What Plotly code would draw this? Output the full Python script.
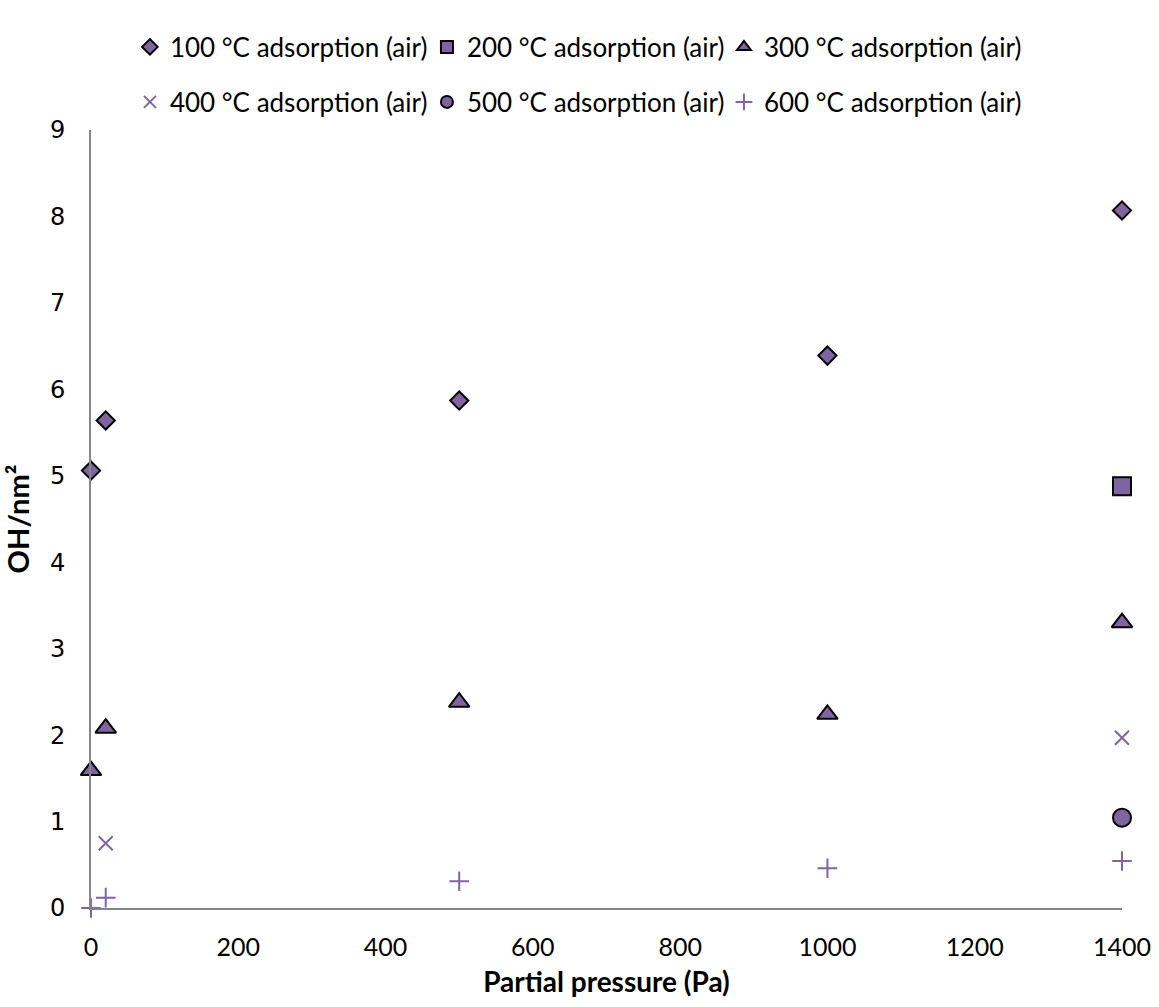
import plotly.graph_objects as go

# Partial pressure (Pa) and surface hydroxyl density (OH/nm²) per treatment temperature
p_100 = [0, 20, 500, 1000, 1400]
oh_100 = [5.06, 5.64, 5.87, 6.39, 8.07]

p_200 = [1400]
oh_200 = [4.88]

p_300 = [0, 20, 500, 1000, 1400]
oh_300 = [1.59, 2.08, 2.38, 2.24, 3.30]

p_400 = [20, 1400]
oh_400 = [0.75, 1.97]

p_500 = [1400]
oh_500 = [1.045]

p_600 = [0, 20, 500, 1000, 1400]
oh_600 = [0.0, 0.12, 0.31, 0.46, 0.544]

names = [
    "100 °C adsorption (air)",
    "200 °C adsorption (air)",
    "300 °C adsorption (air)",
    "400 °C adsorption (air)",
    "500 °C adsorption (air)",
    "600 °C adsorption (air)",
]

x_ticks = [0, 200, 400, 600, 800, 1000, 1200, 1400]
y_ticks = [0, 1, 2, 3, 4, 5, 6, 7, 8, 9]

PURPLE = "#8064A2"
TEXT_FONT = "Lato, Carlito, Calibri, sans-serif"

fig = go.Figure()

def filled(x, y, name, symbol, size, legend):
    fig.add_trace(go.Scatter(
        x=x, y=y, name=name, mode="markers", legend=legend, cliponaxis=False,
        marker=dict(symbol=symbol, size=size, color=PURPLE,
                    line=dict(color="black", width=2)),
    ))

def thin(x, y, name, symbol, size, legend):
    fig.add_trace(go.Scatter(
        x=x, y=y, name=name, mode="markers", legend=legend, cliponaxis=False,
        marker=dict(symbol=symbol, size=size, color=PURPLE,
                    line=dict(color=PURPLE, width=2)),
    ))

filled(p_100, oh_100, names[0], "diamond", 14, "legend")
filled(p_200, oh_200, names[1], "square", 18, "legend")
filled(p_300, oh_300, names[2], "triangle-up", 18, "legend")
thin(p_400, oh_400, names[3], "x-thin", 14, "legend2")
filled(p_500, oh_500, names[4], "circle", 18, "legend2")
thin(p_600, oh_600, names[5], "cross-thin", 14, "legend2")

W, H = 1159, 1007
legend_common = dict(
    orientation="h", xref="container", yref="container",
    x=0.4965, xanchor="center", yanchor="middle",
    font=dict(family=TEXT_FONT, size=26, color="black"),
    itemsizing="constant", bgcolor="rgba(0,0,0,0)",
    entrywidth=252, entrywidthmode="pixels", tracegroupgap=0,
)

fig.update_layout(
    width=W, height=H,
    paper_bgcolor="white", plot_bgcolor="white",
    margin=dict(l=91, r=37, t=130, b=99, autoexpand=False),
    legend=dict(y=1 - 47 / H, **legend_common),
    legend2=dict(y=1 - 102 / H, **legend_common),
    xaxis=dict(
        range=[0, 1400], tickvals=x_ticks, ticktext=[str(v) for v in x_ticks],
        showgrid=False, zeroline=False, showline=True, automargin=False,
        linecolor="#868686", linewidth=2, ticks="",
        ticklabelstandoff=16,
        tickfont=dict(family=TEXT_FONT, size=25, color="black"),
        title=dict(text="<b>Partial pressure (Pa)</b>", standoff=12,
                   font=dict(family=TEXT_FONT, size=28, color="black")),
    ),
    yaxis=dict(
        range=[0, 9], tickvals=y_ticks, ticktext=[str(v) for v in y_ticks],
        showgrid=False, zeroline=False, showline=True, automargin=False,
        linecolor="#868686", linewidth=2, ticks="",
        ticklabelstandoff=19,
        tickfont=dict(family="DejaVu Sans, Verdana, sans-serif", size=24, color="black"),
        title=dict(text="<b>OH/nm²</b>", standoff=13,
                   font=dict(family=TEXT_FONT, size=29, color="black")),
    ),
)

fig.write_html("out.html")
